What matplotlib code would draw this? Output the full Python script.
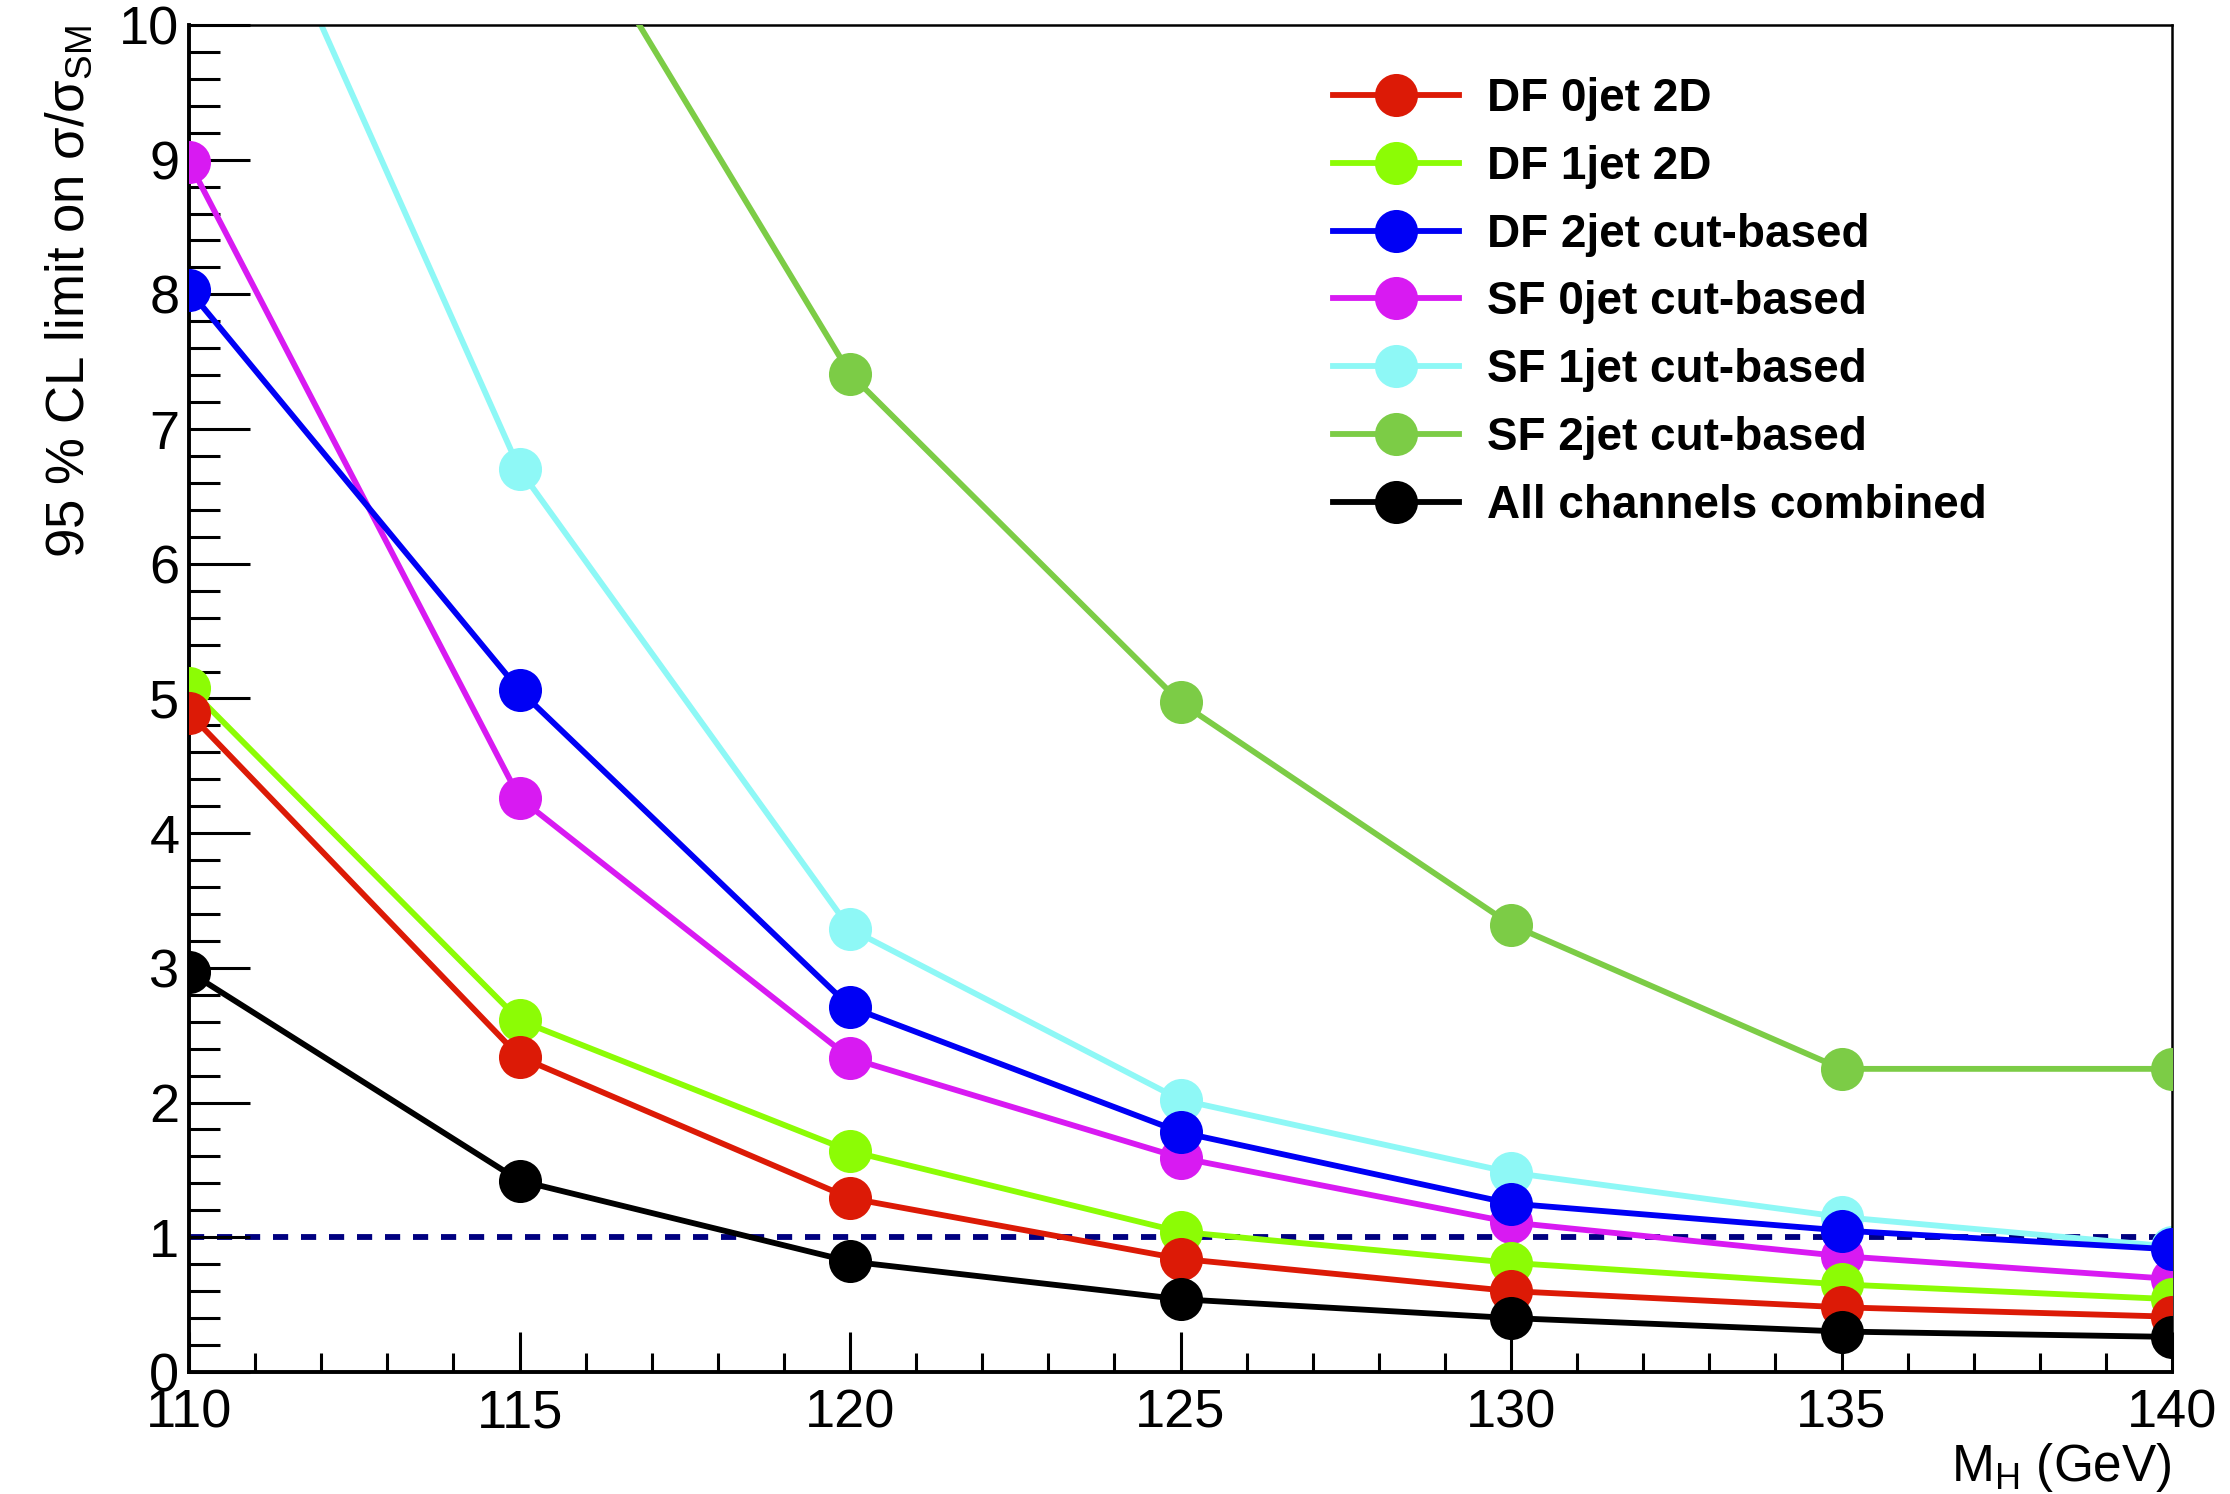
import numpy as np
import matplotlib
matplotlib.use('Agg')
from matplotlib import pyplot as plt

plt.rcParams['font.family'] = ['Liberation Sans', 'DejaVu Sans']
plt.rcParams['mathtext.fontset'] = 'custom'
plt.rcParams['mathtext.rm'] = 'Liberation Sans'
plt.rcParams['mathtext.it'] = 'Liberation Sans:italic'

# Higgs mass points (GeV)
mass = [110, 115, 120, 125, 130, 135, 140]

# 95% CL upper limits on sigma/sigma_SM per channel
df0_2d = [4.89, 2.34, 1.29, 0.84, 0.60, 0.48, 0.41]
df1_2d = [5.08, 2.61, 1.64, 1.04, 0.81, 0.65, 0.54]
df2_cut = [8.03, 5.06, 2.71, 1.78, 1.25, 1.05, 0.91]
sf0_cut = [8.98, 4.26, 2.33, 1.59, 1.11, 0.86, 0.69]
sf1_cut = [12.2, 6.70, 3.29, 2.02, 1.48, 1.15, 0.93]
sf2_cut = [np.nan, 11.47, 7.41, 4.97, 3.32, 2.25, 2.25]
combined = [2.97, 1.42, 0.82, 0.54, 0.40, 0.30, 0.26]

labels = ['DF 0jet 2D', 'DF 1jet 2D', 'DF 2jet cut-based', 'SF 0jet cut-based',
          'SF 1jet cut-based', 'SF 2jet cut-based', 'All channels combined']
series = [df0_2d, df1_2d, df2_cut, sf0_cut, sf1_cut, sf2_cut, combined]
colors = ['#dc1a06', '#8cfc05', '#0000f5', '#d81af2', '#8ef8f6', '#7ccc46', '#000000']
# drawing order (later = on top)
order = [4, 3, 2, 1, 0, 5, 6]

fig = plt.figure(figsize=(22.3, 14.94), dpi=100)
ax = fig.add_axes([0.0848, 0.0817, 0.974 - 0.0848, 0.9833 - 0.0817])

# reference line at sigma/sigma_SM = 1
ax.plot([110, 140], [1, 1], color='#000080', lw=4.2, ls=(0, (2.6, 2.2)), zorder=1)

handles = {}
for i in order:
    ln, = ax.plot(mass, series[i], color=colors[i], lw=4.2, marker='o', ms=31,
                  markeredgewidth=0, label=labels[i], zorder=2 + order.index(i))
    handles[i] = ln

ax.set_xlim(110, 140)
ax.set_ylim(0, 10)
ax.set_xticks(range(110, 141, 5))
ax.set_xticks(range(110, 141), minor=True)
ax.set_yticks(range(0, 11))
ax.set_yticks(np.arange(0, 10.01, 0.2), minor=True)

ax.tick_params(axis='both', which='both', direction='in', top=False, right=False,
               labelsize=39, width=2.2)
ax.tick_params(axis='y', which='major', length=44, pad=7)
ax.tick_params(axis='y', which='minor', length=22)
ax.tick_params(axis='x', which='major', length=29, pad=12)
ax.tick_params(axis='x', which='minor', length=14)
for s in ['left', 'bottom']:
    ax.spines[s].set_linewidth(2.8)
for s in ['top', 'right']:
    ax.spines[s].set_linewidth(1.8)

ax.set_ylabel('95 % CL limit on σ/σ$_{\\mathrm{SM}}$', fontsize=38, loc='top', labelpad=18)
ax.set_xlabel('M$_{\\mathrm{H}}$ (GeV)', fontsize=37, loc='right', labelpad=2)

ax.legend([handles[i] for i in range(7)], labels, loc='upper left',
          bbox_to_anchor=(1333 / 2230, 1 - 77 / 1494), bbox_transform=fig.transFigure,
          prop={'weight': 'bold', 'size': 33}, frameon=False,
          borderpad=0, handlelength=2.75, handletextpad=0.6,
          labelspacing=0.52, borderaxespad=0, markerscale=1.0)

fig.savefig('out.png', dpi=100)
